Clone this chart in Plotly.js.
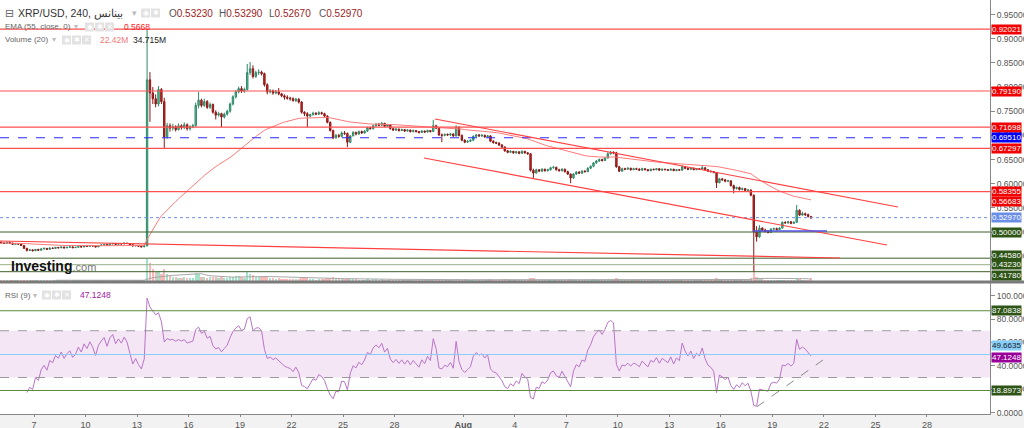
<!DOCTYPE html>
<html><head><meta charset="utf-8">
<script src="https://cdn.plot.ly/plotly-3.0.1.min.js"></script>
<style>html,body{margin:0;padding:0;background:#fff;}#chart{width:1024px;height:428px;}</style>
</head><body><div id="chart"></div>
<script>
// ---------------- DATA (4-hour bars, XRP/USD) ----------------
const firstBarUTC = [2023, 6, 5];   // 5 Jul 2023, 00:00
const barHours = 4;
const firstOpen = 0.4790;
const closes = [
0.4775,0.4762,0.4788,0.4770,0.4745,0.4760,
0.4748,0.4720,0.4662,0.4618,0.4630,0.4612,
0.4640,0.4622,0.4650,0.4662,0.4641,0.4668,
0.4660,0.4681,0.4672,0.4690,0.4671,0.4684,
0.4692,0.4675,0.4683,0.4701,0.4690,0.4712,
0.4702,0.4721,0.4710,0.4692,0.4718,0.4731,
0.4742,0.4725,0.4751,0.4763,0.4745,0.4760,
0.4752,0.4770,0.4761,0.4738,0.4710,0.4722,
0.4705,0.4692,0.4712,0.8150,0.7880,0.7760,
0.7650,0.7950,0.7700,0.6970,0.7200,0.7150,
0.7180,0.7120,0.7200,0.7160,0.7220,0.7140,
0.7180,0.7200,0.7620,0.7730,0.7620,0.7700,
0.7580,0.7640,0.7480,0.7420,0.7450,0.7380,
0.7440,0.7500,0.7650,0.7800,0.7900,0.7970,
0.7920,0.7950,0.8300,0.8380,0.8220,0.8300,
0.8310,0.8280,0.8050,0.7900,0.7920,0.7880,
0.7900,0.7860,0.7820,0.7790,0.7770,0.7760,
0.7720,0.7750,0.7690,0.7480,0.7450,0.7400,
0.7430,0.7460,0.7440,0.7470,0.7450,0.7400,
0.7270,0.7100,0.6950,0.7000,0.6980,0.7050,
0.7040,0.6860,0.6990,0.7060,0.7030,0.7080,
0.7050,0.7090,0.7160,0.7140,0.7200,0.7230,
0.7210,0.7250,0.7190,0.7220,0.7140,0.7110,
0.7130,0.7100,0.7120,0.7090,0.7110,0.7080,
0.7100,0.7080,0.7060,0.7090,0.7070,0.7100,
0.7080,0.7200,0.7150,0.7010,0.7000,0.7020,
0.7010,0.7030,0.6990,0.7170,0.7000,0.6900,
0.6860,0.6880,0.6900,0.6980,0.7010,0.6990,
0.7000,0.6970,0.6990,0.6880,0.6850,0.6840,
0.6800,0.6760,0.6680,0.6650,0.6670,0.6640,
0.6660,0.6630,0.6670,0.6640,0.6620,0.6280,
0.6220,0.6290,0.6260,0.6300,0.6270,0.6290,
0.6330,0.6340,0.6290,0.6270,0.6300,0.6250,
0.6200,0.6120,0.6200,0.6240,0.6220,0.6260,
0.6250,0.6320,0.6360,0.6430,0.6470,0.6500,
0.6480,0.6530,0.6620,0.6650,0.6640,0.6350,
0.6260,0.6310,0.6300,0.6320,0.6290,0.6310,
0.6300,0.6280,0.6310,0.6290,0.6270,0.6300,
0.6290,0.6310,0.6280,0.6300,0.6290,0.6280,
0.6300,0.6270,0.6290,0.6280,0.6350,0.6320,
0.6300,0.6320,0.6290,0.6310,0.6300,0.6330,
0.6290,0.6260,0.6250,0.6230,0.6020,0.6100,
0.6080,0.6050,0.6060,0.5960,0.5900,0.5920,
0.5880,0.5900,0.5860,0.5870,0.5760,0.5000,
0.4900,0.5080,0.5040,0.5020,0.4990,0.5060,
0.5070,0.5050,0.5080,0.5200,0.5190,0.5210,
0.5180,0.5200,0.5450,0.5350,0.5380,0.5360,
0.5323,0.5297];
const highs = [
0.4805,0.4790,0.4800,0.4798,0.4778,0.4772,
0.4772,0.4758,0.4728,0.4670,0.4642,0.4640,
0.4648,0.4650,0.4660,0.4675,0.4668,0.4678,
0.4678,0.4690,0.4688,0.4698,0.4695,0.4692,
0.4700,0.4698,0.4690,0.4710,0.4708,0.4720,
0.4720,0.4730,0.4728,0.4715,0.4725,0.4740,
0.4750,0.4748,0.4758,0.4772,0.4768,0.4768,
0.4768,0.4778,0.4775,0.4766,0.4742,0.4730,
0.4728,0.4712,0.4720,0.9202,0.8310,0.8000,
0.7850,0.8020,0.7980,0.7780,0.7260,0.7250,
0.7240,0.7210,0.7250,0.7230,0.7270,0.7250,
0.7210,0.7240,0.7680,0.7900,0.7760,0.7760,
0.7730,0.7680,0.7660,0.7520,0.7490,0.7470,
0.7470,0.7530,0.7680,0.7830,0.7940,0.8010,
0.8020,0.7990,0.8480,0.8520,0.8450,0.8340,
0.8370,0.8340,0.8300,0.8080,0.7960,0.7950,
0.7940,0.7980,0.7880,0.7850,0.7830,0.7800,
0.7790,0.7780,0.7770,0.7710,0.7500,0.7480,
0.7450,0.7490,0.7480,0.7500,0.7490,0.7470,
0.7420,0.7290,0.7120,0.7030,0.7030,0.7080,
0.7090,0.7060,0.7000,0.7090,0.7080,0.7100,
0.7100,0.7110,0.7180,0.7180,0.7220,0.7260,
0.7260,0.7280,0.7260,0.7240,0.7230,0.7160,
0.7150,0.7140,0.7140,0.7130,0.7130,0.7120,
0.7120,0.7110,0.7090,0.7110,0.7100,0.7120,
0.7110,0.7320,0.7220,0.7160,0.7040,0.7040,
0.7040,0.7050,0.7040,0.7210,0.7180,0.7020,
0.6920,0.6900,0.6920,0.7000,0.7030,0.7030,
0.7030,0.7020,0.7010,0.7000,0.6900,0.6870,
0.6860,0.6820,0.6770,0.6700,0.6690,0.6680,
0.6680,0.6670,0.6690,0.6680,0.6650,0.6630,
0.6310,0.6310,0.6300,0.6320,0.6310,0.6310,
0.6350,0.6370,0.6350,0.6310,0.6320,0.6310,
0.6270,0.6210,0.6220,0.6260,0.6260,0.6280,
0.6280,0.6340,0.6380,0.6450,0.6490,0.6520,
0.6520,0.6550,0.6650,0.6680,0.6670,0.6660,
0.6370,0.6330,0.6330,0.6340,0.6330,0.6330,
0.6330,0.6320,0.6330,0.6320,0.6300,0.6310,
0.6310,0.6320,0.6320,0.6310,0.6310,0.6300,
0.6310,0.6310,0.6300,0.6300,0.6380,0.6360,
0.6340,0.6340,0.6330,0.6320,0.6320,0.6370,
0.6340,0.6300,0.6270,0.6260,0.6240,0.6120,
0.6120,0.6100,0.6080,0.6070,0.5980,0.5940,
0.5940,0.5920,0.5910,0.5890,0.5880,0.5780,
0.5120,0.5140,0.5100,0.5070,0.5040,0.5080,
0.5090,0.5090,0.5100,0.5220,0.5220,0.5230,
0.5230,0.5220,0.5560,0.5470,0.5420,0.5400,
0.5380,0.5329];
const lows = [
0.4765,0.4748,0.4755,0.4760,0.4735,0.4738,
0.4738,0.4712,0.4650,0.4598,0.4608,0.4600,
0.4605,0.4612,0.4615,0.4640,0.4632,0.4635,
0.4650,0.4655,0.4662,0.4665,0.4662,0.4665,
0.4676,0.4668,0.4670,0.4678,0.4682,0.4685,
0.4695,0.4698,0.4702,0.4682,0.4688,0.4712,
0.4722,0.4718,0.4720,0.4745,0.4738,0.4740,
0.4745,0.4748,0.4752,0.4730,0.4702,0.4705,
0.4698,0.4685,0.4688,0.4705,0.7280,0.7650,
0.7580,0.7600,0.7650,0.6740,0.6930,0.7080,
0.7100,0.7080,0.7100,0.7120,0.7130,0.7100,
0.7100,0.7150,0.7180,0.7560,0.7580,0.7590,
0.7550,0.7550,0.7450,0.7330,0.7390,0.7170,
0.7350,0.7410,0.7470,0.7620,0.7760,0.7870,
0.7880,0.7880,0.7930,0.8250,0.8180,0.8190,
0.8250,0.8240,0.8010,0.7850,0.7870,0.7840,
0.7850,0.7830,0.7790,0.7740,0.7740,0.7720,
0.7700,0.7690,0.7660,0.7450,0.7400,0.7170,
0.7370,0.7410,0.7420,0.7420,0.7430,0.7380,
0.7250,0.7080,0.6920,0.6930,0.6950,0.6960,
0.7010,0.6760,0.6840,0.6980,0.7000,0.7010,
0.7030,0.7040,0.7070,0.7120,0.7120,0.7180,
0.7190,0.7200,0.7170,0.7180,0.7120,0.7090,
0.7090,0.7080,0.7090,0.7070,0.7080,0.7060,
0.7060,0.7060,0.7040,0.7050,0.7050,0.7060,
0.7060,0.7070,0.7130,0.6990,0.6860,0.6980,
0.6990,0.6990,0.6970,0.6980,0.6980,0.6880,
0.6840,0.6850,0.6860,0.6880,0.6960,0.6970,
0.6970,0.6950,0.6960,0.6860,0.6830,0.6820,
0.6780,0.6740,0.6660,0.6630,0.6640,0.6620,
0.6620,0.6610,0.6620,0.6620,0.6600,0.6250,
0.6120,0.6210,0.6240,0.6240,0.6250,0.6250,
0.6270,0.6310,0.6270,0.6250,0.6250,0.6230,
0.6180,0.6010,0.6100,0.6180,0.6200,0.6200,
0.6230,0.6240,0.6300,0.6340,0.6410,0.6450,
0.6460,0.6470,0.6520,0.6600,0.6610,0.6330,
0.6240,0.6250,0.6280,0.6290,0.6270,0.6280,
0.6290,0.6270,0.6270,0.6280,0.6260,0.6260,
0.6280,0.6280,0.6270,0.6270,0.6280,0.6270,
0.6270,0.6260,0.6260,0.6270,0.6270,0.6300,
0.6280,0.6290,0.6280,0.6280,0.6290,0.6290,
0.6280,0.6250,0.6230,0.6220,0.5910,0.6010,
0.6060,0.6030,0.6040,0.5940,0.5800,0.5880,
0.5860,0.5860,0.5840,0.5840,0.5740,0.4178,
0.4800,0.4880,0.5010,0.4990,0.4970,0.4980,
0.5040,0.5030,0.5040,0.5070,0.5170,0.5170,
0.5160,0.5170,0.5190,0.5330,0.5340,0.5330,
0.5300,0.5267];
const volumesM = [
12,10,9,11,14,10, 9,13,18,16,10,8, 11,9,10,12,8,9, 7,8,6,9,7,8,
6,8,7,9,8,10, 9,11,8,12,10,9, 12,10,13,11,9,10, 10,9,11,12,13,10,
9,11,10,300,250,160, 120,130,90,160,100,70, 60,50,45,40,55,45, 40,35,110,90,60,50,
45,50,55,60,40,50, 35,40,55,60,70,65, 50,45,120,100,80,60, 55,50,70,65,40,35,
30,35,30,28,25,30, 28,25,30,45,35,40, 25,22,20,25,22,28, 40,45,55,35,25,28,
25,40,30,25,22,20, 20,18,25,20,22,24, 20,22,18,20,22,18, 15,14,16,15,14,13,
12,11,13,12,11,12, 12,25,20,28,22,18, 16,15,14,25,22,20, 22,18,16,20,18,15,
16,15,14,22,20,18, 20,22,28,22,18,17, 16,15,17,14,15,45, 35,20,15,14,13,12,
12,14,15,16,13,15, 18,30,20,15,14,13, 14,18,20,22,20,18, 16,20,28,25,20,35,
25,18,15,14,13,12, 12,11,12,10,11,10, 9,10,9,8,9,10, 9,10,9,11,18,14,
12,13,14,12,11,16, 14,15,14,16,40,28, 22,20,18,25,30,22, 20,18,22,20,35,230,
60,40,25,18,15,14, 13,12,11,20,14,12, 11,12,45,25,18,15, 14,34.715];

// horizontal levels (price panel) and their labels
const redLevels = [0.92021, 0.79190, 0.71698, 0.67297, 0.58355];
const blueDashedLevel = 0.69510;
const greenLevels = [0.50000, 0.44580, 0.43230, 0.41780];
const lastPrice = 0.52970;
const emaLastLabel = 0.56683;
// RSI panel levels
const rsiGreenLevels = [87.0838, 18.8973];
const rsiBlueLevel = 49.6635;
const rsiLastLabel = 47.1248;
const rsiBands = [30, 70];
// drawn trend lines (date, price)
const trendDates = [['2023-07-05 00:25','2023-08-22 22:35'],
                    ['2023-07-30 08:25','2023-08-26 07:40'],
                    ['2023-07-29 17:05','2023-08-25 16:15']];
const trendPrices = [[0.4814,0.4462],[0.7340,0.5518],[0.6532,0.4731]];
const flatLineDates = ['2023-08-17 20:50','2023-08-22 04:20'];
const flatLinePrice = 0.5020;
const rsiTrendDates = ['2023-08-18 02:25','2023-08-21 22:50'];
const rsiTrendValues = [5, 45];
// axes
const xRange = ['2023-07-05 00:25','2023-08-31 16:13'];
const tickDates = ['2023-07-07','2023-07-10','2023-07-13','2023-07-16','2023-07-19','2023-07-22','2023-07-25','2023-07-28','2023-08-01','2023-08-04','2023-08-07','2023-08-10','2023-08-13','2023-08-16','2023-08-19','2023-08-22','2023-08-25','2023-08-28'];
const tickLabels = ['7','10','13','16','19','22','25','28','<b>Aug</b>','4','7','10','13','16','19','22','25','28'];
const priceTicks = [0.45,0.50,0.55,0.60,0.65,0.70,0.75,0.80,0.85,0.90,0.95];
const rsiTicks = [0,20,40,60,80,100];
// legend texts
const titleText = 'XRP/USD, 240, بينانس';
const ohlcText = [['O','0.53230'],['H','0.53290'],['L','0.52670'],['C','0.52970']];
const emaText = 'EMA (55, close, 0)', emaValText = '0.5668';
const volText = 'Volume (20)', volMAText = '22.42M', volLastText = '34.715M';
const rsiText = 'RSI (9)', rsiValText = '47.1248';

// ---------------- derived series ----------------
const t0 = Date.UTC(firstBarUTC[0], firstBarUTC[1], firstBarUTC[2]);
const times = closes.map((_, i) => new Date(t0 + (i * barHours + barHours / 2) * 3600e3).toISOString().slice(0, 16).replace('T', ' '));
const opens = closes.map((c, i) => i === 0 ? firstOpen : closes[i - 1]);
const ema = []; { const a = 2 / 56; closes.forEach((c, i) => ema.push(i === 0 ? c : a * c + (1 - a) * ema[i - 1])); }
const volMA = volumesM.map((v, i) => i < 19 ? null : volumesM.slice(i - 19, i + 1).reduce((s, x) => s + x, 0) / 20);
function rsiCalc(c, n) {
  const out = new Array(c.length).fill(null); let g = 0, l = 0;
  for (let i = 1; i <= n; i++) { const d = c[i] - c[i - 1]; if (d > 0) g += d; else l -= d; }
  g /= n; l /= n; out[n] = 100 - 100 / (1 + g / l);
  for (let i = n + 1; i < c.length; i++) { const d = c[i] - c[i - 1];
    g = (g * (n - 1) + Math.max(d, 0)) / n; l = (l * (n - 1) + Math.max(-d, 0)) / n;
    out[i] = l === 0 ? 100 : 100 - 100 / (1 + g / l); }
  return out;
}
const rsi = rsiCalc(closes, 9);

// ---------------- layout helpers ----------------
const FONT = 'Liberation Sans, Arial, sans-serif';
const W = 990, H = 414;
const px = x => x / W, py = y => (H - y) / H;
const shapes = [], annotations = [];
function hline(v, yref, color, dash, width) {
  shapes.push({type:'line', xref:'paper', x0:0, x1:1, yref, y0:v, y1:v, line:{color, width:width||1, dash:dash||'solid'}});
}
function label(v, yref, bg, fg, digits, shift) {
  annotations.push({xref:'paper', x:1, xanchor:'left', xshift:1, yref, y:v, yanchor:'middle', yshift:shift||0, text:v.toFixed(digits),
    showarrow:false, bgcolor:bg, borderpad:0, font:{size:8, color:fg, family:FONT}});
}
function txt(x, y, text, size, color, extra) {
  annotations.push(Object.assign({xref:'paper', yref:'paper', x:px(x), y:py(y), xanchor:'left', yanchor:'middle', text,
    showarrow:false, font:{size, color, family:FONT}}, extra || {}));
}
function icons(x, y, n) {
  const glyphs = ['◉', '✱', '✕'];
  for (let k = 0; k < n; k++) {
    const x0 = x + k * 10;
    shapes.push({type:'rect', xref:'paper', yref:'paper', x0:px(x0), x1:px(x0 + 9), y0:py(y + 4.5), y1:py(y - 4.5),
      fillcolor:'#e2e2e2', line:{width:0}});
    annotations.push({xref:'paper', yref:'paper', x:px(x0 + 4.5), y:py(y), xanchor:'center', yanchor:'middle', text:glyphs[k],
      showarrow:false, font:{size:7, color:'#ffffff', family:'DejaVu Sans'}});
  }
}

// background band under the time axis
shapes.push({type:'rect', xref:'paper', yref:'paper', x0:0, x1:1024 / W, y0:-14 / H, y1:0, fillcolor:'#f2f2f2', line:{width:0}, layer:'below'});
// RSI band
shapes.push({type:'rect', xref:'paper', x0:0, x1:1, yref:'y2', y0:rsiBands[0], y1:rsiBands[1], fillcolor:'#f4e6f4', line:{width:0}, layer:'below'});
rsiBands.forEach(v => hline(v, 'y2', '#9a9a9a', 'dash', 1));
// price-panel levels
redLevels.forEach(v => hline(v, 'y', '#ff5050', 'solid', 1.2));
hline(blueDashedLevel, 'y', '#2a2aff', 'dash', 1.2);
greenLevels.forEach((v, i) => hline(v, 'y', i === 2 ? '#9aaf8a' : '#3f5f2a', 'solid', 1));
hline(lastPrice, 'y', '#6f8fe8', 'dot', 1);
// RSI levels
rsiGreenLevels.forEach(v => hline(v, 'y2', '#5c8a3c', 'solid', 1));
hline(rsiBlueLevel, 'y2', '#87cefa', 'solid', 1);
// trend lines
trendDates.forEach((d, i) => shapes.push({type:'line', xref:'x', yref:'y', x0:d[0], x1:d[1], y0:trendPrices[i][0], y1:trendPrices[i][1],
  line:{color:'#ff4040', width:1.2}}));
shapes.push({type:'line', xref:'x', yref:'y', x0:flatLineDates[0], x1:flatLineDates[1], y0:flatLinePrice, y1:flatLinePrice, line:{color:'#5050e0', width:1.5}});
shapes.push({type:'line', xref:'x', yref:'y2', x0:rsiTrendDates[0], x1:rsiTrendDates[1], y0:rsiTrendValues[0], y1:rsiTrendValues[1], line:{color:'#8a8a8a', width:1, dash:'dash'}});
// panel separator
shapes.push({type:'line', xref:'paper', yref:'paper', x0:0, x1:1024 / W, y0:py(282), y1:py(282), line:{color:'#7a7a7a', width:3}});

// right-side value labels
redLevels.forEach(v => label(v, 'y', '#f20000', '#ffffff', 5));
label(blueDashedLevel, 'y', '#0000ff', '#ffffff', 5);
label(emaLastLabel, 'y', '#f20000', '#ffffff', 5, -2);
label(lastPrice, 'y', '#6a8ee6', '#ffffff', 5);
const greenShift = [0, 2.5, 0, -3.5];
greenLevels.forEach((v, i) => label(v, 'y', '#2e5416', '#ffffff', 5, greenShift[i]));
rsiGreenLevels.forEach(v => label(v, 'y2', '#2e5416', '#ffffff', 4));
label(rsiBlueLevel, 'y2', '#87cefa', '#1a1a1a', 4, 9);
label(rsiLastLabel, 'y2', '#990099', '#ffffff', 4);

// top-left legends
txt(3, 13, '⊟', 11, '#666', {font:{size:11, color:'#666', family:'DejaVu Sans'}});
txt(16, 13, titleText, 10.5, '#333');
txt(130, 13, '▾', 9, '#bbb');
icons(141, 13, 2);
ohlcText.forEach((p, i) => txt(167 + i * 50, 13, p[0] + '<span style="color:#9b1c1c">' + p[1] + '</span>', 10, '#555'));
txt(3, 27, emaText, 8, '#666'); txt(72, 27, '▾', 8, '#bbb'); icons(85, 27, 3); txt(122, 27, emaValText, 8.5, '#ff1a1a');
txt(3, 40, volText, 8, '#666'); txt(50, 40, '▾', 8, '#bbb'); icons(62, 40, 3); txt(98, 40, volMAText, 8.5, '#f07a7a'); txt(131, 40, volLastText, 8.5, '#222');
txt(3, 295, rsiText, 8, '#666'); txt(31, 295, '▾', 8, '#bbb'); icons(42, 295, 3); txt(78, 295, rsiValText, 8.5, '#a020a0');
// watermark logo
txt(9, 266, '<b>Investing</b><span style="font-size:11px;color:#777">.com</span>', 14, '#111');

// ---------------- traces ----------------
const volColors = closes.map((c, i) => c >= opens[i] ? 'rgba(70,200,150,0.5)' : 'rgba(240,100,100,0.45)');
const traces = [
  {type:'bar', x:times, y:volumesM, yaxis:'y3', marker:{color:volColors, line:{width:0}}, width:4 * 3600e3 * 0.8, hoverinfo:'skip'},
  {type:'scatter', mode:'lines', x:times, y:volMA, yaxis:'y3', line:{color:'#a8a8a8', width:1}, hoverinfo:'skip'},
  {type:'candlestick', x:times, open:opens, high:highs, low:lows, close:closes, xaxis:'x', yaxis:'y', whiskerwidth:0,
    increasing:{line:{color:'#2f8a68', width:1}, fillcolor:'#5cbf98'},
    decreasing:{line:{color:'#8e1616', width:1}, fillcolor:'#c42b2b'}, hoverinfo:'skip'},
  {type:'scatter', mode:'lines', x:times, y:ema, yaxis:'y', line:{color:'#ff7a7a', width:1}, hoverinfo:'skip'},
  {type:'scatter', mode:'lines', x:times, y:rsi, yaxis:'y2', line:{color:'#b875c8', width:1}, hoverinfo:'skip'}
];

const volTop = Math.max(...volumesM) * 281 / 22;
const layout = {
  width:1024, height:428, margin:{l:0, r:34, t:0, b:14, pad:0},
  paper_bgcolor:'#ffffff', plot_bgcolor:'#ffffff', showlegend:false, bargap:0,
  font:{family:FONT, size:9, color:'#444'},
  xaxis:{type:'date', range:xRange, anchor:'y2', rangeslider:{visible:false}, showgrid:false, zeroline:false,
    showline:true, linecolor:'#888', linewidth:1, ticks:'outside', ticklen:2, tickcolor:'#888',
    tickvals:tickDates, ticktext:tickLabels, tickfont:{size:9, color:'#555'}},
  yaxis:{domain:[py(281), 1], range:[0.39855, 0.98033], side:'right', showgrid:false, zeroline:false,
    showline:true, linecolor:'#888', ticks:'outside', ticklen:4, tickcolor:'#888',
    tickvals:priceTicks, tickformat:'.5f', tickfont:{size:8.5, color:'#555'}},
  yaxis3:{overlaying:'y', range:[0, volTop], visible:false, showgrid:false, zeroline:false},
  yaxis2:{domain:[0, py(283)], range:[-1.2, 110.8], side:'right', showgrid:false, zeroline:false,
    showline:true, linecolor:'#888', ticks:'outside', ticklen:4, tickcolor:'#888',
    tickvals:rsiTicks, tickformat:'.4f', tickfont:{size:8.5, color:'#555'}},
  shapes, annotations
};
Plotly.newPlot('chart', traces, layout, {staticPlot:true, displayModeBar:false});
</script></body></html>
